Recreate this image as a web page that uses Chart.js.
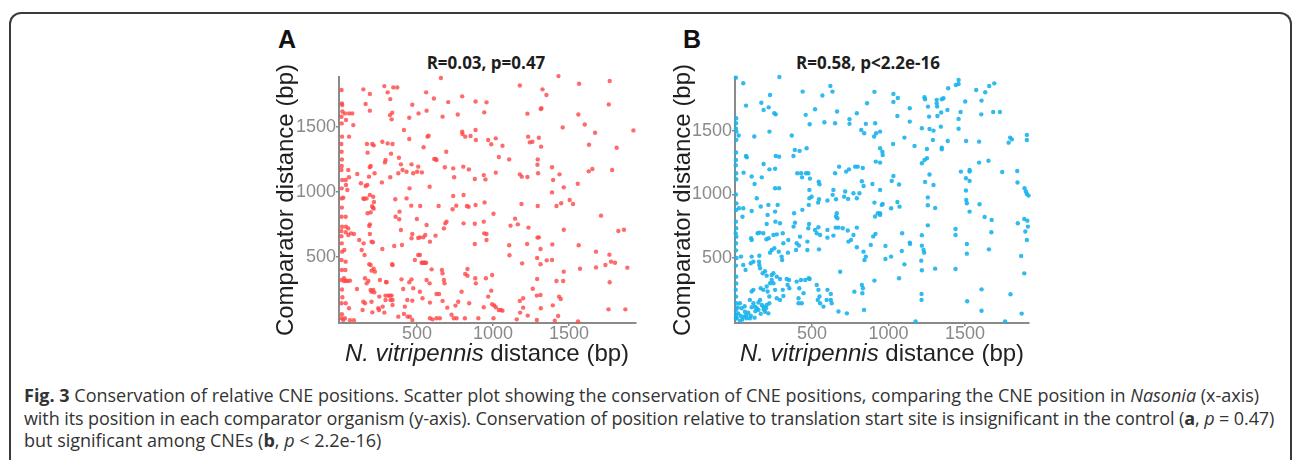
<!DOCTYPE html>
<html>
<head>
<meta charset="utf-8">
<script src="https://cdn.jsdelivr.net/npm/chart.js@4.4.1/dist/chart.umd.min.js"></script>
<style>
  html, body { margin: 0; padding: 0; background: #fff; }
  body { width: 1292px; height: 460px; position: relative; overflow: hidden; }
  #frame {
    position: absolute; left: 9px; top: 12px; width: 1279px; height: 480px;
    border: 2px solid #3a3a3a; border-bottom: none; border-radius: 12px 12px 0 0;
  }
  canvas { position: absolute; }
  .letter { position: absolute; font: bold 25px "Liberation Sans", Arial, sans-serif; line-height: 25px; color: #111; }
  .stat { position: absolute; width: 240px; text-align: center; font: bold 17px "Open Sans", sans-serif; line-height: 20px; color: #1e1e1e; white-space: nowrap; }
  .xtitle { position: absolute; width: 320px; text-align: center; font: 24px "Liberation Sans", Arial, sans-serif; line-height: 28px; color: #222; white-space: nowrap; }
  #caption { position: absolute; left: 24px; top: 384px; font: 18px "Open Sans", sans-serif; line-height: 22.5px; color: #333; white-space: nowrap; }
  #caption .apertada { letter-spacing: -0.09px; }
</style>
</head>
<body>
<div id="frame"></div>
<div class="letter" style="left:278px; top:27px;">A</div>
<div class="letter" style="left:683px; top:27px;">B</div>
<div class="stat" id="statA" style="left:366px; top:53px;"></div>
<div class="stat" id="statB" style="left:748px; top:53px;"></div>
<canvas id="chartA" width="430" height="300" style="left:270px; top:42px;"></canvas>
<canvas id="chartB" width="416" height="300" style="left:660px; top:42px;"></canvas>
<div class="xtitle" style="left:327px; top:339px;"><i>N. vitripennis</i> distance (bp)</div>
<div class="xtitle" style="left:722px; top:339px;"><i>N. vitripennis</i> distance (bp)</div>
<div id="caption"><b>Fig. 3</b> Conservation of relative CNE positions. Scatter plot showing the conservation of CNE positions, comparing the CNE position in <i>Nasonia</i> (x-axis)<br><span class="apertada">with its position in each comparator organism (y-axis). Conservation of position relative to translation start site is insignificant in the control (<b>a</b>, <i>p</i> = 0.47)</span><br>but significant among CNEs (<b>b</b>, <i>p</i> &lt; 2.2e-16)</div>

<script>
// Valores (bp): [distância N. vitripennis, distância comparador]
const tickValues = [500, 1000, 1500];
const titleA = 'R=0.03, p=0.47';
const titleB = 'R=0.58, p<2.2e-16';
const yTitle = 'Comparator distance (bp)';

// Painel A - controle
const controlPoints = [
  [4,1785],[6,1682],[8,1669],[3,1579],[5,1528],[7,1426],[4,1310],[6,1250],[3,1169],[8,1092],[5,1028],[3,951],[6,880],[4,810],[7,733],[3,660],[5,605],[8,541],[4,477],[6,400],[3,323],[7,250],[4,144],[6,60],[3,28],[9,1620],[2,1370],[5,1200],[2,700],[9,190],
  [147,1790],[190,1754],[285,1815],[307,1767],[324,1715],[344,1805],[370,1805],[560,1767],[611,1720],[657,1877],[705,1692],[797,1736],[885,1697],[957,1690],[162,1677],[190,1626],[26,1605],[33,1554],[53,1605],[74,1605],[81,1515],[53,1426],[469,1672],[510,1605],[449,1572],[337,1610],[322,1592],[333,1559],[414,1477],[449,1408],[563,1626],[576,1433],[569,1426],[543,1344],[622,1254],[613,1254],[668,1580],[692,1310],[768,1597],[797,1464],[799,1446],[817,1426],[852,1431],[885,1477],[887,1400],[942,1613],[968,1400],
  [171,1369],[206,1369],[215,1359],[175,1303],[272,1387],[307,1374],[339,1369],[329,1295],[293,1246],[289,1228],[195,1200],[190,1190],[48,1169],[53,1113],[31,1092],[33,1054],[107,1138],[131,1067],[162,1046],[173,1054],[184,1118],[221,1144],[269,1074],[324,1113],[377,1144],[394,1213],[405,1169],[381,1264],[431,1156],[475,1144],[501,1156],[464,1213],[532,1151],[508,1195],[583,1041],[628,1246],[683,1190],[738,1182],[744,1113],[804,1195],[841,1174],[880,1100],[939,1130],[950,1097],
  [147,951],[153,946],[168,951],[190,977],[212,964],[210,880],[205,890],[215,872],[195,843],[175,836],[217,923],[42,1015],[15,956],[31,810],[33,733],[31,690],[48,720],[48,669],[66,682],[85,677],[120,631],[149,605],[190,677],[190,751],[186,738],[201,618],[210,613],[136,554],[155,515],[186,444],[195,438],[215,410],[158,336],[169,297],[180,315],[201,395],[223,387],[212,246],[201,233],[256,323],[296,308],[272,562],[337,444],[350,585],[401,592],[394,708],[359,810],[357,944],[385,849],[383,790],[431,951],[451,1028],[462,895],[499,792],[521,892],[563,746],[554,669],[469,677],[464,644],[508,646],[519,651],[541,651],[585,618],[622,664],[642,892],[686,759],[677,720],[694,772],[738,969],[734,867],[758,895],[806,759],[880,756],[939,772],[944,920],[806,977],[828,892],[839,887],[885,900],[942,682],[957,677],[957,631],[880,600],[832,408],
  [22,554],[31,464],[29,400],[20,336],[20,315],[31,318],[44,315],[59,318],[105,254],[147,156],[158,144],[142,92],[53,105],[31,144],[26,28],[15,15],[59,13],[85,13],[195,246],[219,228],[201,156],[206,74],[252,195],[245,105],[250,92],[274,118],[300,305],[293,203],[293,169],[311,203],[322,203],[333,203],[326,169],[339,169],[339,131],[285,72],[339,438],[398,328],[409,254],[420,118],[436,169],[449,305],[464,328],[475,259],[486,477],[508,515],[519,515],[530,456],[537,456],[545,456],[552,456],[560,456],[563,323],[583,297],[596,405],[519,233],[536,182],[469,164],[469,15],[414,62],[377,41],[438,41],[453,41],[585,28],[602,20],[628,28],[650,28],[585,149],[628,215],[645,215],[664,400],[668,374],[677,323],[681,297],[668,162],[699,110],[727,56],[742,28],[760,28],[753,126],[771,156],[793,233],[817,369],[832,356],[843,144],[887,297],[883,336],[953,336],[968,195],[939,113],[815,28],[903,28],
  [1430,1892],[1176,1820],[1566,1833],[1767,1854],[1325,1790],[1351,1746],[1226,1603],[1314,1638],[1318,1645],[1561,1597],[1761,1674],[1458,1497],[1603,1520],[1671,1456],[1923,1474],[988,1367],[1018,1413],[1062,1356],[1231,1426],[1242,1382],[1259,1387],[1301,1418],[1316,1349],[1631,1364],[1813,1341],[1038,1269],[1106,1251],[1294,1251],[1292,1210],[1296,1144],[1018,1149],[1176,1136],[1189,1118],[1226,1115],[1388,1190],[1395,1092],[1437,1136],[1465,1036],[1388,997],[1557,1064],[1629,1159],[1653,1177],[1783,1169],[1504,938],[1526,908],[1448,913],[1417,892],[1294,892],[1187,908],[1003,833],[1145,795],[1163,751],[1115,741],[1233,726],[1710,818],[1824,700],[1861,710],[1465,710],[1292,649],[1301,651],[1224,600],[1390,597],[1563,590],[1312,562],[1106,590],[1108,513],[1677,541],[1765,518],[1776,464],[1802,456],[1739,438],[1290,492],[1312,444],[1353,474],[1388,477],[1191,451],[1572,410],[1677,420],[1883,418],[1465,387],[1417,315],[1461,315],[994,361],[1290,331],[1261,256],[988,241],[1288,203],[1312,208],[1434,195],[1445,177],[1176,162],[1198,182],[1314,105],[1393,128],[1767,305],[1759,97],[1870,97],[994,136],[1007,128],[1018,113],[1038,92],[1051,92],[1062,87],[1003,28],[1178,72],[1198,110],[1228,49],[1156,20],[1288,15],[1406,10],[1428,46],[1559,3]
];

// Painel B - CNEs
const cnePoints = [
  [3,1920],[5,1600],[4,1561],[3,1520],[6,1495],[6,1430],[4,1330],[3,1272],[2,1230],[5,1167],[5,1120],[3,1000],[6,930],[4,878],[3,786],[5,734],[2,694],[6,668],[4,616],[4,560],[7,500],[3,440],[5,353],[5,300],[2,250],[4,196],[6,143],[3,91],[5,51],[3,25],
  [287,1925],[51,1876],[69,1700],[169,1722],[226,1783],[184,1666],[217,1686],[254,1640],[263,1631],[222,1495],[123,1456],[21,1464],[368,1464],[439,1810],[459,1627],[520,1671],[568,1779],[620,1855],[634,1810],[664,1653],[581,1569],[485,1553],[745,1592],[745,1556],[793,1640],[822,1508],[852,1556],[841,1482],[906,1456],[913,1561],[908,1808],[860,1718],[651,1561],
  [53,1172],[69,1303],[74,1293],[106,1141],[125,1083],[172,1135],[222,1198],[259,1203],[263,1303],[285,1298],[379,1303],[388,1351],[419,1343],[465,1364],[184,1240],[259,1049],[285,1049],[404,1167],[429,1167],[461,1167],[476,1167],[435,1135],[487,1125],[483,1036],[498,983],[483,970],[544,1101],[549,1080],[651,1167],[677,1219],[723,1180],[742,1198],[782,1219],[799,1219],[832,1209],[826,1104],[837,1067],[895,1083],[908,936],[930,852],[736,965],[771,1010],[793,970],[810,1010],[717,1023],[710,983],[640,1036],[635,997],[546,962],[540,936],[601,952],[657,962],[479,918],[437,879],[383,852],[380,747],[389,778],[345,642],[343,542],[400,616],[415,598],[396,563],[422,668],[470,629],[470,563],[476,734],[520,721],[542,742],[531,695],[553,681],[481,768],[546,568],[601,721],[601,660],[640,676],[655,739],[673,739],[657,826],[662,852],[666,813],[701,734],[734,716],[771,681],[738,629],[755,642],[793,584],[837,550],[852,511],[843,484],[793,739],[884,603],[900,670],[915,690],
  [259,865],[261,786],[291,773],[276,918],[210,839],[215,918],[204,768],[165,905],[139,970],[106,870],[51,891],[23,891],[46,825],[106,642],[102,655],[145,695],[158,700],[182,695],[202,647],[217,655],[248,681],[270,686],[226,542],[237,563],[254,576],[283,550],[302,511],[305,484],[309,695],[313,616],[106,511],[117,471],[100,458],[156,518],[154,471],[156,445],[161,419],[178,380],[193,395],[204,361],[237,366],[248,380],[237,327],[248,301],[226,301],[270,353],[291,335],[335,335],[350,327],[341,288],[352,262],[309,249],[313,201],[270,183],[291,170],[259,249],[204,275],[210,236],[221,197],[165,262],[182,249],[117,249],[106,236],[66,406],[51,445],[36,511],
  [94,170],[117,143],[128,117],[106,112],[139,104],[150,91],[172,130],[161,170],[182,117],[193,77],[204,130],[221,143],[215,64],[150,150],[130,80],[185,95],[165,60],[200,105],
  [29,143],[40,104],[18,64],[34,43],[56,38],[74,25],[95,25],[62,77],[84,69],[8,25],[29,5],[15,110],[45,15],[70,50],[100,45],[125,30],[60,120],
  [400,314],[428,327],[417,262],[445,223],[412,183],[433,143],[412,143],[456,327],[485,335],[479,340],[531,288],[542,249],[549,197],[538,170],[553,143],[575,117],[601,249],[623,217],[623,170],[629,143],[596,170],[673,78],[684,392],[728,64],[777,235],[826,288],[833,262],[829,222],[840,91],[908,322],
  [1458,1902],[1458,1870],[1440,1862],[1390,1836],[1573,1823],[1632,1805],[1658,1854],[1691,1875],[1032,1792],[1032,1729],[1061,1760],[1235,1766],[1239,1750],[1315,1745],[1315,1718],[1348,1750],[1359,1758],[1501,1732],[1608,1739],[1258,1692],[1318,1692],[1139,1679],[1385,1666],[1344,1645],[1320,1618],[1265,1613],[1471,1650],[1684,1650],[1728,1650],[1606,1631],[1458,1595],[1058,1618],[1139,1574],[1218,1521],[1268,1516],[1294,1503],[1342,1534],[1458,1518],[919,1482],[945,1495],[1104,1448],[1030,1398],[945,1364],[960,1337],[962,1311],[1170,1382],[1251,1358],[1290,1429],[1348,1369],[1348,1356],[1387,1421],[1507,1421],[1592,1416],[1795,1448],[1806,1434],[1785,1408],[1904,1469],[1904,1429],[945,1251],[917,1259],[1218,1246],[1235,1272],[1251,1285],[1592,1251],[1653,1266],[1473,1180],[1530,1193],[1530,1180],[1506,1128],[1530,1107],[1268,1157],[1239,1099],[1294,1075],[1021,1107],[1032,1146],[1069,1078],[945,1036],[1743,1177],[1841,1185],[1843,1094],[1889,1049],[1898,1023],[1904,1004],[1915,991],[1257,977],[1257,915],[1305,894],[1506,1031],[1508,957],[1512,931],[1530,865],[1595,923],[1628,823],[1674,800],[1672,702],[956,918],[962,925],[1058,941],[1072,904],[1017,891],[945,852],[945,839],[912,826],[1257,757],[1438,728],[1438,681],[1089,695],[1139,621],[1141,611],[1218,679],[1218,597],[1229,563],[1233,542],[980,595],[1017,511],[980,492],[1087,555],[1104,450],[1214,479],[1218,403],[1305,416],[1438,413],[1512,610],[1512,534],[1656,568],[1845,773],[1887,807],[1907,794],[1911,747],[1894,708],[1904,642],[1867,516],[1887,379],[1069,340],[1216,217],[1216,170],[1514,159],[1608,253],[1608,85],[1797,214],[1870,62],[1177,0],[1762,0]
];

// Cores e fontes
const corA = 'rgba(255, 70, 70, 0.8)';
const corB = 'rgba(25, 178, 236, 0.9)';
const corEixo = '#8a8a8a';
const fonteEixo = 'Liberation Sans';

// Títulos com as estatísticas
document.getElementById('statA').textContent = titleA;
document.getElementById('statB').textContent = titleB;

// Função para montar cada painel
function criarPainel(id, pontos, cor, faixaX, faixaY, larguraY, tituloYPad, padDireita) {
    return new Chart(document.getElementById(id), {
        type: 'scatter',
        data: {
            datasets: [{
                data: pontos.map(p => ({ x: p[0], y: p[1] })),
                backgroundColor: cor,
                borderWidth: 0,
                pointRadius: 2.2,
                clip: false
            }]
        },
        options: {
            responsive: false,
            animation: false,
            events: [],
            layout: { padding: { left: 0, right: padDireita, top: 35, bottom: 0 } },
            plugins: {
                legend: { display: false },
                tooltip: { enabled: false },
                title: { display: false }
            },
            scales: {
                x: {
                    type: 'linear',
                    min: faixaX[0],
                    max: faixaX[1],
                    grid: { drawOnChartArea: false, drawTicks: true, tickLength: 3, color: corEixo, lineWidth: 1.5 },
                    border: { display: true, color: corEixo, width: 2 },
                    ticks: { color: corEixo, font: { family: fonteEixo, size: 18, lineHeight: 1 }, padding: -1, autoSkip: false, maxRotation: 0, callback: v => String(v) },
                    afterBuildTicks: s => { s.ticks = tickValues.map(v => ({ value: v })); },
                    afterFit: s => { s.height = 19; }
                },
                y: {
                    type: 'linear',
                    min: faixaY[0],
                    max: faixaY[1],
                    grid: { drawOnChartArea: false, drawTicks: true, tickLength: 3, color: corEixo, lineWidth: 1.5 },
                    border: { display: true, color: corEixo, width: 2 },
                    ticks: { color: corEixo, font: { family: fonteEixo, size: 18 }, padding: 0, autoSkip: false, callback: v => String(v) },
                    afterBuildTicks: s => { s.ticks = tickValues.map(v => ({ value: v })); },
                    afterFit: s => { s.width = larguraY; },
                    title: {
                        display: true,
                        text: yTitle,
                        color: '#1e1e1e',
                        font: { family: fonteEixo, size: 24 },
                        padding: { top: tituloYPad, bottom: 0 }
                    }
                }
            }
        }
    });
}

criarPainel('chartA', controlPoints, corA, [-13, 1940], [-8, 1885], 69, 2, 64);
criarPainel('chartB', cnePoints, corB, [-3, 1918], [-12, 1925], 75, 9, 47);
</script>
</body>
</html>
